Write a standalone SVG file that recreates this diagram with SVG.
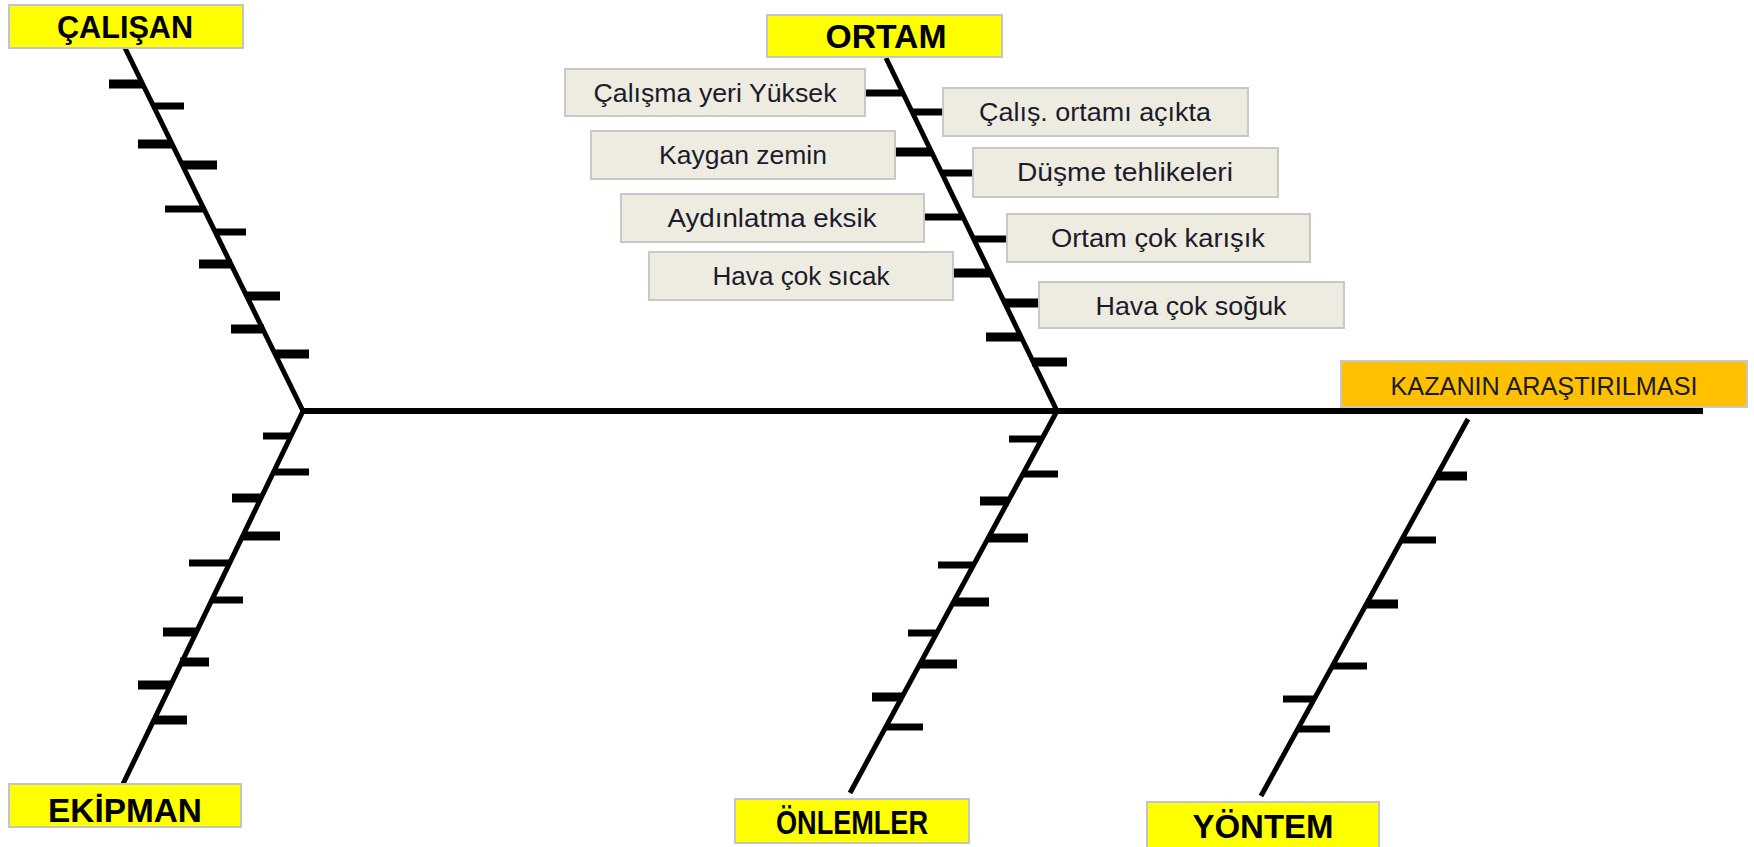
<svg xmlns="http://www.w3.org/2000/svg" width="1754" height="847" viewBox="0 0 1754 847">
<style>
.bg{fill:#ffffff}
.ln{stroke:#000;fill:none;stroke-linecap:butt}
.main{stroke-width:6}
.sp{stroke-width:5}
.tk{stroke-width:9}
.tn{stroke-width:7}
.hdr rect{fill:#FFFF00;stroke:#C4C4C4;stroke-width:2}
.hdr text{font-family:"Liberation Sans",Arial,sans-serif;font-weight:bold;fill:#000;text-anchor:middle}
.cause rect{fill:#EEECE1;stroke:#C8C8C8;stroke-width:2}
.cause text{font-family:"Liberation Sans",Arial,sans-serif;font-size:25px;fill:#1b1b2b;text-anchor:middle}
.head rect{fill:#FFC000;stroke:#C8C8C8;stroke-width:2}
.head text{font-family:"Liberation Sans",Arial,sans-serif;font-size:25px;fill:#1a1a1a;text-anchor:middle}
</style>
<rect class="bg" x="0" y="0" width="1754" height="847"/>

<g id="connectors">
  <!-- main spine -->
  <line class="ln main" x1="301" y1="411" x2="1703" y2="411"/>
  <!-- category bones -->
  <line class="ln sp" x1="125" y1="48" x2="303" y2="411"/>
  <line class="ln sp" x1="303" y1="411" x2="123" y2="784"/>
  <line class="ln sp" x1="886" y1="58" x2="1057" y2="411"/>
  <line class="ln sp" x1="1057" y1="411" x2="850" y2="793"/>
  <line class="ln sp" x1="1468" y1="419" x2="1261" y2="796"/>

  <!-- CALISAN ticks -->
  <line class="ln tk" x1="109" y1="84" x2="143" y2="84"/>
  <line class="ln tn" x1="153" y1="106" x2="184" y2="106"/>
  <line class="ln tk" x1="138" y1="144" x2="172" y2="144"/>
  <line class="ln tk" x1="182" y1="165" x2="217" y2="165"/>
  <line class="ln tn" x1="165" y1="209" x2="203" y2="209"/>
  <line class="ln tn" x1="215" y1="232" x2="246" y2="232"/>
  <line class="ln tk" x1="199" y1="264" x2="232" y2="264"/>
  <line class="ln tk" x1="246" y1="296" x2="280" y2="296"/>
  <line class="ln tk" x1="231" y1="329" x2="264" y2="329"/>
  <line class="ln tk" x1="275" y1="354" x2="309" y2="354"/>

  <!-- EKIPMAN ticks -->
  <line class="ln tn" x1="263" y1="436" x2="291" y2="436"/>
  <line class="ln tn" x1="273" y1="472" x2="309" y2="472"/>
  <line class="ln tk" x1="232" y1="498" x2="261" y2="498"/>
  <line class="ln tk" x1="243" y1="536" x2="280" y2="536"/>
  <line class="ln tn" x1="189" y1="563" x2="229" y2="563"/>
  <line class="ln tn" x1="211" y1="600" x2="243" y2="600"/>
  <line class="ln tk" x1="163" y1="632" x2="197" y2="632"/>
  <line class="ln tk" x1="180" y1="662" x2="209" y2="662"/>
  <line class="ln tk" x1="138" y1="685" x2="171" y2="685"/>
  <line class="ln tk" x1="153" y1="720" x2="187" y2="720"/>

  <!-- ORTAM ticks -->
  <line class="ln tn" x1="864" y1="93" x2="903" y2="93"/>
  <line class="ln tn" x1="911" y1="112" x2="944" y2="112"/>
  <line class="ln tk" x1="895" y1="152" x2="932" y2="152"/>
  <line class="ln tn" x1="941" y1="173" x2="974" y2="173"/>
  <line class="ln tn" x1="924" y1="217" x2="964" y2="217"/>
  <line class="ln tn" x1="973" y1="239" x2="1008" y2="239"/>
  <line class="ln tk" x1="953" y1="273" x2="991" y2="273"/>
  <line class="ln tk" x1="1004" y1="303" x2="1040" y2="303"/>
  <line class="ln tk" x1="986" y1="337" x2="1022" y2="337"/>
  <line class="ln tk" x1="1032" y1="362" x2="1067" y2="362"/>

  <!-- ONLEMLER ticks -->
  <line class="ln tn" x1="1009" y1="439" x2="1043" y2="439"/>
  <line class="ln tn" x1="1022" y1="474" x2="1058" y2="474"/>
  <line class="ln tk" x1="980" y1="501" x2="1009" y2="501"/>
  <line class="ln tk" x1="988" y1="538" x2="1028" y2="538"/>
  <line class="ln tn" x1="938" y1="565" x2="974" y2="565"/>
  <line class="ln tk" x1="953" y1="602" x2="989" y2="602"/>
  <line class="ln tn" x1="908" y1="633" x2="937" y2="633"/>
  <line class="ln tk" x1="920" y1="664" x2="957" y2="664"/>
  <line class="ln tk" x1="872" y1="697" x2="903" y2="697"/>
  <line class="ln tn" x1="885" y1="727" x2="923" y2="727"/>

  <!-- YONTEM ticks -->
  <line class="ln tk" x1="1436" y1="476" x2="1467" y2="476"/>
  <line class="ln tn" x1="1401" y1="540" x2="1436" y2="540"/>
  <line class="ln tk" x1="1366" y1="604" x2="1398" y2="604"/>
  <line class="ln tn" x1="1332" y1="666" x2="1367" y2="666"/>
  <line class="ln tn" x1="1283" y1="699" x2="1315" y2="699"/>
  <line class="ln tn" x1="1297" y1="729" x2="1330" y2="729"/>
</g>

<g id="node-calisan" class="hdr">
  <rect x="9" y="5" width="234" height="43"/>
  <text x="125" y="38" font-size="31" textLength="136" lengthAdjust="spacingAndGlyphs">ÇALIŞAN</text>
</g>
<g id="node-ortam" class="hdr">
  <rect x="767" y="15" width="235" height="42"/>
  <text x="886" y="48" font-size="33" textLength="121" lengthAdjust="spacingAndGlyphs">ORTAM</text>
</g>
<g id="node-ekipman" class="hdr">
  <rect x="9" y="784" width="232" height="43"/>
  <text x="125" y="822" font-size="33" textLength="154" lengthAdjust="spacingAndGlyphs">EKİPMAN</text>
</g>
<g id="node-onlemler" class="hdr">
  <rect x="735" y="799" width="234" height="44"/>
  <text x="852" y="834" font-size="33" textLength="152" lengthAdjust="spacingAndGlyphs">ÖNLEMLER</text>
</g>
<g id="node-yontem" class="hdr">
  <rect x="1147" y="802" width="232" height="48"/>
  <text x="1263" y="838" font-size="33" textLength="141" lengthAdjust="spacingAndGlyphs">YÖNTEM</text>
</g>
<g id="node-kaza" class="head">
  <rect x="1341" y="361" width="406" height="46"/>
  <text x="1544" y="395" textLength="307" lengthAdjust="spacingAndGlyphs">KAZANIN ARAŞTIRILMASI</text>
</g>

<g id="node-calisma-yeri" class="cause">
  <rect x="565" y="69" width="300" height="47"/>
  <text x="715" y="102" textLength="243" lengthAdjust="spacingAndGlyphs">Çalışma yeri Yüksek</text>
</g>
<g id="node-kaygan" class="cause">
  <rect x="591" y="131" width="304" height="48"/>
  <text x="743" y="164" textLength="168" lengthAdjust="spacingAndGlyphs">Kaygan zemin</text>
</g>
<g id="node-aydinlatma" class="cause">
  <rect x="621" y="194" width="303" height="48"/>
  <text x="772" y="227" textLength="209" lengthAdjust="spacingAndGlyphs">Aydınlatma eksik</text>
</g>
<g id="node-hava-sicak" class="cause">
  <rect x="649" y="252" width="304" height="48"/>
  <text x="801" y="285" textLength="177" lengthAdjust="spacingAndGlyphs">Hava çok sıcak</text>
</g>
<g id="node-acikta" class="cause">
  <rect x="943" y="88" width="305" height="48"/>
  <text x="1095" y="121" textLength="232" lengthAdjust="spacingAndGlyphs">Çalış. ortamı açıkta</text>
</g>
<g id="node-dusme" class="cause">
  <rect x="973" y="148" width="305" height="49"/>
  <text x="1125" y="181" textLength="216" lengthAdjust="spacingAndGlyphs">Düşme tehlikeleri</text>
</g>
<g id="node-karisik" class="cause">
  <rect x="1007" y="214" width="303" height="48"/>
  <text x="1158" y="247" textLength="214" lengthAdjust="spacingAndGlyphs">Ortam çok karışık</text>
</g>
<g id="node-hava-soguk" class="cause">
  <rect x="1039" y="282" width="305" height="46"/>
  <text x="1191" y="315" textLength="191" lengthAdjust="spacingAndGlyphs">Hava çok soğuk</text>
</g>
</svg>
